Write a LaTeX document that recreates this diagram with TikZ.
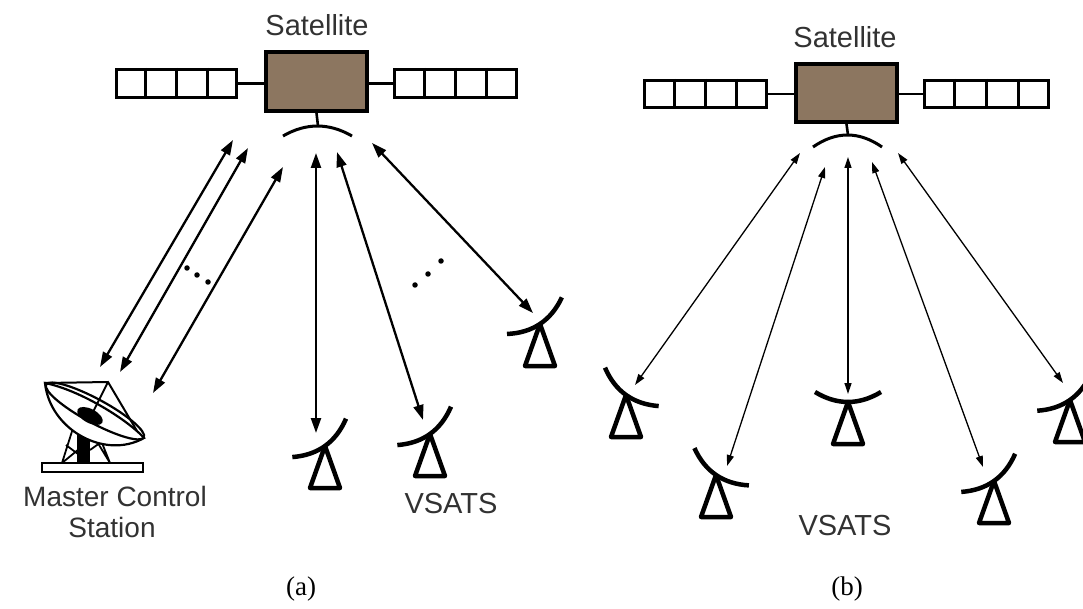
\documentclass[tikz,border=0pt]{standalone}
\usepackage{fontspec}
\setmainfont{Liberation Serif}
\newfontfamily\labfont{Liberation Sans}
\usetikzlibrary{arrows.meta,calc}
\definecolor{satbrown}{RGB}{140,118,96}
\definecolor{labgray}{RGB}{50,50,50}

\tikzset{
  panel/.style={draw=black,line width=2.6pt,fill=white,inner sep=0pt},
  body/.style={draw=black,line width=4pt,fill=satbrown,inner sep=0pt,
    minimum width=101pt,minimum height=59pt},
  boom/.style={line width=2.6pt},
  dishline/.style={line width=4.5pt,line join=round},
  linkA/.style={line width=2.3pt,
    {Triangle[length=15pt,width=10pt]}-{Triangle[length=15pt,width=10pt]}},
  linkB/.style={line width=1.3pt,
    {Triangle[length=11pt,width=7pt]}-{Triangle[length=11pt,width=7pt]}},
  lab/.style={font=\labfont\fontsize{29}{30}\selectfont,text=labgray,inner sep=0pt},
  mcslab/.style={font=\labfont\fontsize{28}{29}\selectfont,text=labgray,inner sep=0pt},
  capt/.style={font=\fontsize{27}{30}\selectfont,inner sep=0pt},
  dotmark/.style={fill=black,circle,inner sep=0pt,minimum size=5.5pt},
  % small VSAT terminal: tilted dish on a triangular stand
  pics/vsat/.style={code={
    \draw[dishline,rotate=#1] (-33,-10) .. controls (-11,3.3) and (11,3.3) .. (33,-10);
    \draw[dishline] (0,0) -- (-15,42) -- (15,42) -- cycle;
  }},
}

\begin{document}
\begin{tikzpicture}[x=1pt,y=-1pt]
\useasboundingbox (0,0) rectangle (1083,609);
\clip (0,0) rectangle (1083,609);

% ---------------- (a) satellite ----------------
\node[body] (satA) at (316.5,81.5) {};
\node[panel,minimum width=120.4pt,minimum height=28.4pt] (panAL) at (176.5,83.5) {};
\node[panel,minimum width=122.4pt,minimum height=28.4pt] (panAR) at (455.5,83.5) {};
\foreach \f in {0.25,0.5,0.75}{
  \draw[boom] ($(panAL.north west)!\f!(panAL.north east)$) -- ($(panAL.south west)!\f!(panAL.south east)$);
  \draw[boom] ($(panAR.north west)!\f!(panAR.north east)$) -- ($(panAR.south west)!\f!(panAR.south east)$);
}
\draw[boom] (panAL.east) -- (panAL.east -| satA.west);
\draw[boom] (panAR.west -| satA.east) -- (panAR.west);
\draw[boom] (satA.south) -- (318,126);
\draw[line width=3pt] (283,136) .. controls (306,122.7) and (329,122.7) .. (352,136);
\node[lab,anchor=base] (satAlab) at (317,36) {Satellite};

% ---------------- (a) master control station ----------------
\draw[line width=2.2pt] (42,463) rectangle (143,472);
\fill (77,425) rectangle (90,463);
\draw[line width=1.8pt] (62,463) -- (74,425) (110,463) -- (96,428)
  (62,463) -- (90,440) (66,445) -- (90,463) (96,440) -- (110,463) (90,450) -- (104,440);
\draw[line width=2.2pt,fill=white] (45,383) .. controls (50,430) and (105,460) .. (144,438)
  .. controls (128,420) and (80,390) .. cycle;
\draw[line width=2.2pt,rotate around={-28.4:(95,411)}] (95,411) ellipse [x radius=55.5,y radius=12];
\fill[rotate around={-28:(90,416)}] (90,416) ellipse [x radius=14,y radius=7];
\coordinate (feed) at (108,382);
\draw[line width=2pt] (45,383) -- (feed) -- (137,431) (feed) -- (92,414);
\node[mcslab,anchor=base] (mcsLab1) at (115,506) {Master Control};
\node[mcslab,anchor=base] (mcsLab2) at (112,537) {Station};

% ---------------- (a) VSAT terminals ----------------
\pic (va1) at (325,446) {vsat=35.6};
\pic (va2) at (430,434) {vsat=35.6};
\pic (va3) at (540,324) {vsat=33.7};
\node[lab,anchor=base] (vsatA) at (451,513) {VSATS};

% ---------------- (a) links ----------------
\coordinate (aT1) at (233,140); \coordinate (aB1) at (100,367);
\coordinate (aT2) at (248,148); \coordinate (aB2) at (120,372);
\coordinate (aT3) at (283,167); \coordinate (aB3) at (153,393);
\coordinate (aT4) at (316,153); \coordinate (aB4) at (316,433);
\coordinate (aT5) at (337,152); \coordinate (aB5) at (423,420);
\coordinate (aT6) at (372,143); \coordinate (aB6) at (533,313);
\foreach \i in {1,...,6} \draw[linkA] (aT\i) -- (aB\i);
\node[dotmark] (dA1) at (187,268) {};
\node[dotmark] (dA2) at (197,275) {};
\node[dotmark] (dA3) at (208,282) {};
\node[dotmark] (dA4) at (415,285) {};
\node[dotmark] (dA5) at (428,274) {};
\node[dotmark] (dA6) at (441,261) {};

\node[capt,anchor=base] (capA) at (301,595) {(a)};

% ---------------- (b) satellite ----------------
\node[body,minimum width=101pt,minimum height=58pt] (satB) at (846.5,93) {};
\node[panel,minimum width=122.4pt,minimum height=27.4pt] (panBL) at (705.5,94) {};
\node[panel,minimum width=124.4pt,minimum height=27.4pt] (panBR) at (986.5,94) {};
\foreach \f in {0.25,0.5,0.75}{
  \draw[boom] ($(panBL.north west)!\f!(panBL.north east)$) -- ($(panBL.south west)!\f!(panBL.south east)$);
  \draw[boom] ($(panBR.north west)!\f!(panBR.north east)$) -- ($(panBR.south west)!\f!(panBR.south east)$);
}
\draw[boom] (panBL.east) -- (panBL.east -| satB.west);
\draw[boom] (panBR.west -| satB.east) -- (panBR.west);
\draw[boom] (satB.south) -- (848,135);
\draw[line width=3pt] (813,147) .. controls (836,131) and (859,131) .. (882,147);
\node[lab,anchor=base] (satBlab) at (845,48) {Satellite};

% ---------------- (b) VSAT terminals ----------------
\pic (vb1) at (626,395) {vsat=-35.6};
\pic (vb2) at (716,475) {vsat=-34.4};
\pic (vb3) at (848,402) {vsat=0};
\pic (vb4) at (994,481) {vsat=35.3};
\pic (vb5) at (1070,400) {vsat=35};
\node[lab,anchor=base] (vsatB) at (845,535) {VSATS};

% ---------------- (b) links ----------------
\coordinate (bT1) at (800,153); \coordinate (bB1) at (635,385);
\coordinate (bT2) at (825,167); \coordinate (bB2) at (727,466);
\coordinate (bT3) at (848,157); \coordinate (bB3) at (848,394);
\coordinate (bT4) at (872,162); \coordinate (bB4) at (983,467);
\coordinate (bT5) at (898,153); \coordinate (bB5) at (1063,383);
\foreach \i in {1,...,5} \draw[linkB] (bT\i) -- (bB\i);

\node[capt,anchor=base] (capB) at (847,595) {(b)};
\end{tikzpicture}
\end{document}
